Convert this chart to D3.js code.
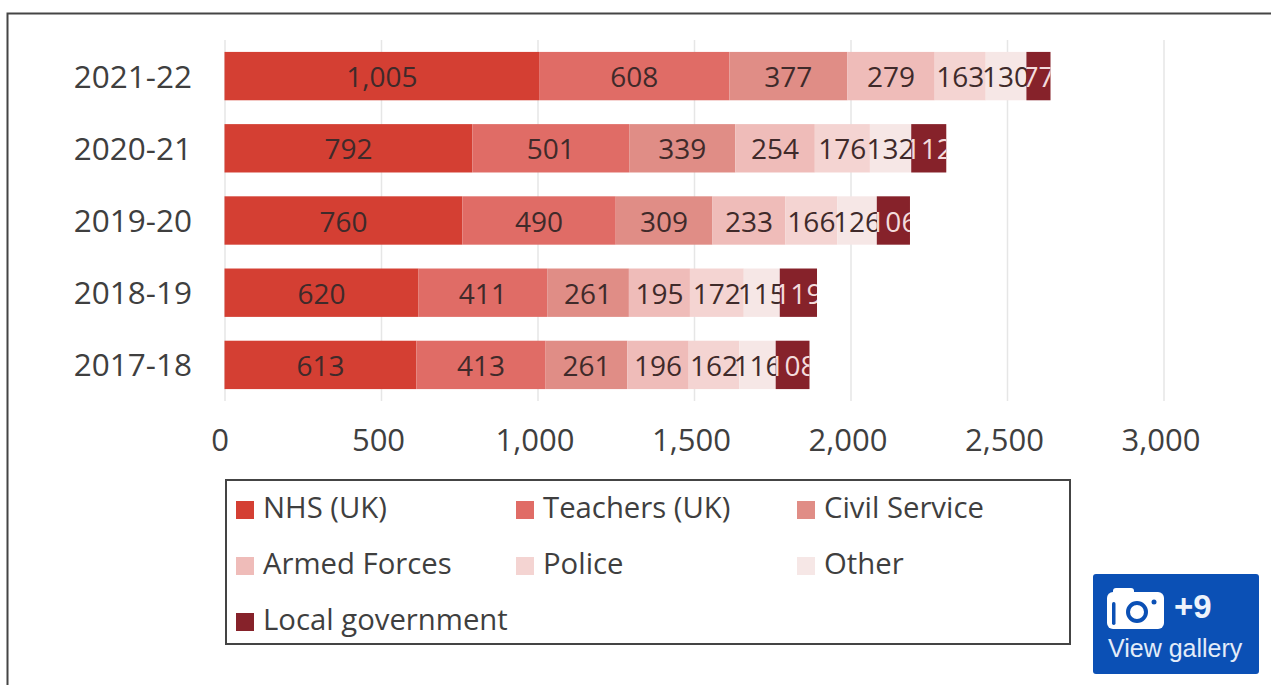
<!DOCTYPE html>
<html>
<head>
<meta charset="utf-8">
<script src="https://cdnjs.cloudflare.com/ajax/libs/d3/7.8.5/d3.min.js"></script>
<style>
html,body{margin:0;padding:0;background:#fff;overflow:hidden}
text{font-family:"Open Sans",sans-serif}
</style>
</head>
<body>
<svg id="chart" width="1271" height="685"></svg>
<script>
// Public sector pay-bill style breakdown by financial year, stacked by employer group.
const years = ["2021-22", "2020-21", "2019-20", "2018-19", "2017-18"];
const groups = ["NHS (UK)", "Teachers (UK)", "Civil Service", "Armed Forces", "Police", "Other", "Local government"];
const nhs = [1005, 792, 760, 620, 613];
const teachers = [608, 501, 490, 411, 413];
const civil = [377, 339, 309, 261, 261];
const armed = [279, 254, 233, 195, 196];
const police = [163, 176, 166, 172, 162];
const other = [130, 132, 126, 115, 116];
const local = [77, 112, 106, 119, 108];
const colours = ["#d43f33", "#e06c66", "#e08d86", "#efbcb9", "#f4d4d2", "#f6e7e6", "#86222a"];
const ticks = [0, 500, 1000, 1500, 2000, 2500, 3000];

const seriesValues = [nhs, teachers, civil, armed, police, other, local];
const rows = years.map((y, i) => {
  const row = {year: y};
  groups.forEach((g, k) => { row[g] = seriesValues[k][i]; });
  return row;
});
const stacked = d3.stack().keys(groups)(rows);

const svg = d3.select("#chart");
const x = d3.scaleLinear().domain([0, 3000]).range([224.5, 1163.5]);
const y = d3.scaleBand().domain(years).range([40, 401]).paddingInner(0.33).paddingOuter(0.165);
const fmt = d3.format(",");

// Outer card frame, open on the right and bottom edges
svg.append("path").attr("d", "M7.5,685V13.5H1271").attr("fill", "none")
  .attr("stroke", "#454545").attr("stroke-width", 2);

// Gridlines and value axis
const xAxis = svg.append("g").attr("transform", "translate(0,401)")
  .call(d3.axisBottom(x).tickValues(ticks).tickFormat(fmt).tickSize(-361).tickPadding(28));
xAxis.select(".domain").remove();
xAxis.selectAll("line").attr("stroke", "#e6e6e6").attr("stroke-width", 1.5);
xAxis.selectAll("text").attr("font-size", 31).attr("fill", "#3f3f3f")
  .attr("dx", (d, i) => i === 0 ? -5 : -3).attr("dy", "0.72em");

// Year labels
const yAxis = svg.append("g").attr("transform", "translate(192,1.5)")
  .call(d3.axisLeft(y).tickSize(0).tickPadding(0));
yAxis.select(".domain").remove();
yAxis.selectAll("text").attr("font-size", 31.5).attr("fill", "#3f3f3f");

// Stacked segments, each with its value label
const defs = svg.append("defs");
stacked.forEach((layer, k) => {
  const isLocal = groups[k] === "Local government";
  const g = svg.append("g");
  g.selectAll("rect").data(layer).join("rect")
    .attr("x", d => x(d[0]))
    .attr("y", d => y(d.data.year))
    .attr("width", d => x(d[1]) - x(d[0]))
    .attr("height", y.bandwidth())
    .attr("fill", colours[k]);
  if (isLocal) {
    // The dark end segment is too narrow for its label, so the label is cut to the segment
    layer.forEach((d, i) => {
      defs.append("clipPath").attr("id", "seg" + i).append("rect")
        .attr("x", x(d[0])).attr("y", y(d.data.year))
        .attr("width", x(d[1]) - x(d[0])).attr("height", y.bandwidth());
    });
  }
  g.selectAll("text").data(layer).join("text")
    .attr("x", d => (x(d[0]) + x(d[1])) / 2)
    .attr("y", d => y(d.data.year) + y.bandwidth() / 2 + 1)
    .attr("dy", "0.36em")
    .attr("text-anchor", "middle")
    .attr("font-size", 28)
    .attr("fill", isLocal ? "#f3dcdc" : "#3f2a2a")
    .attr("clip-path", (d, i) => isLocal ? "url(#seg" + i + ")" : null)
    .text(d => fmt(d[1] - d[0]));
});

// Legend box
const legendCols = [236, 516, 797];
const legendRows = [510, 566, 622];
svg.append("rect").attr("x", 226).attr("y", 480).attr("width", 844).attr("height", 164)
  .attr("fill", "#fff").attr("stroke", "#444").attr("stroke-width", 2);
groups.forEach((g, k) => {
  const cx = legendCols[k % 3], cy = legendRows[Math.floor(k / 3)];
  svg.append("rect").attr("x", cx).attr("y", cy - 9).attr("width", 18).attr("height", 18).attr("fill", colours[k]);
  svg.append("text").attr("x", cx + 27).attr("y", cy - 3).attr("dy", "0.36em")
    .attr("font-size", 29.3).attr("fill", "#3f3f3f").text(g);
});

// Gallery button with camera icon
const blue = "#0b50b5";
const btn = svg.append("g");
btn.append("rect").attr("x", 1093).attr("y", 574).attr("width", 166).attr("height", 100).attr("rx", 3).attr("fill", blue);
btn.append("rect").attr("x", 1107).attr("y", 592).attr("width", 57).attr("height", 37).attr("rx", 6).attr("fill", "#fff");
btn.append("rect").attr("x", 1113).attr("y", 588).attr("width", 21).attr("height", 8).attr("rx", 3).attr("fill", "#fff");
btn.append("rect").attr("x", 1112).attr("y", 602).attr("width", 3.5).attr("height", 23).attr("rx", 1.7).attr("fill", blue);
btn.append("circle").attr("cx", 1137).attr("cy", 612).attr("r", 9).attr("fill", "none").attr("stroke", blue).attr("stroke-width", 4);
btn.append("circle").attr("cx", 1154).attr("cy", 602).attr("r", 2.5).attr("fill", blue);
btn.append("text").attr("x", 1174).attr("y", 618).attr("font-size", 33).attr("font-weight", 700)
  .attr("fill", "#eef3fb").style("font-family", "'Liberation Sans',sans-serif").text("+9");
btn.append("text").attr("x", 1108).attr("y", 657).attr("font-size", 25)
  .attr("fill", "#e3ecf9").style("font-family", "'Liberation Sans',sans-serif").text("View gallery");
</script>
</body>
</html>
